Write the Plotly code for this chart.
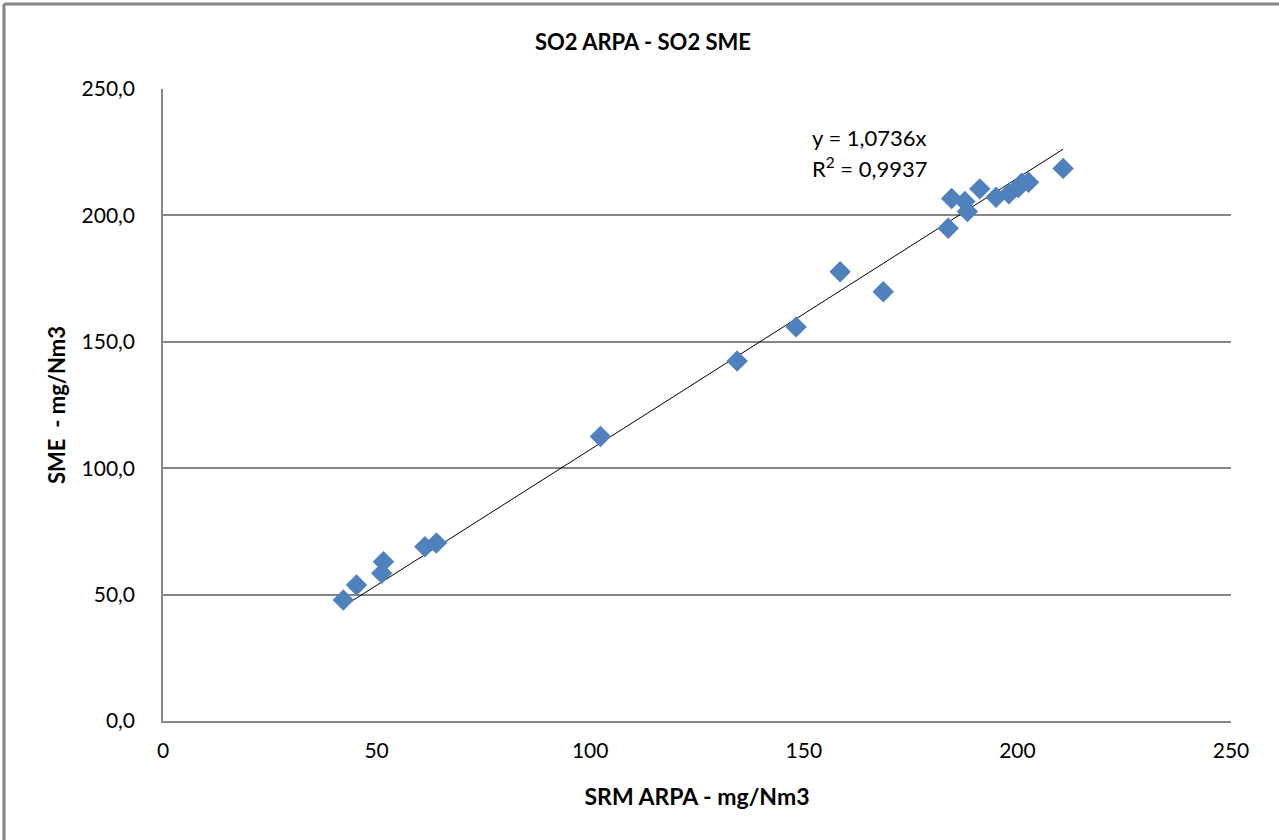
import numpy as np
import plotly.graph_objects as go

# Data
srm_arpa = [42.2, 45.3, 51.2, 51.6, 61.3, 64.0, 102.4, 134.4, 148.2, 158.5, 168.6,
            183.8, 184.6, 187.7, 188.3, 191.2, 195.0, 198.0, 200.2, 201.0, 202.6, 210.7]
sme = [47.9, 53.8, 58.4, 63.0, 68.9, 70.4, 112.5, 142.4, 155.9, 177.7, 169.8,
       194.9, 206.7, 205.5, 201.5, 210.5, 207.2, 208.6, 211.0, 212.7, 213.1, 218.6]
slope = 1.0736
r2 = 0.9937

title_text = "SO2 ARPA - SO2 SME"
x_title = "SRM ARPA - mg/Nm3"
y_title = "SME  - mg/Nm3"

W, H = 1279, 840
ML, MR, MT, MB = 163, 48, 89, 119
FONT = "Lato, Open Sans, sans-serif"
GRID = "#868686"

fig = go.Figure()

xt = np.array([min(srm_arpa), max(srm_arpa)])
fig.add_trace(go.Scatter(x=xt, y=slope * xt, mode="lines",
                         line=dict(color="#000000", width=1), hoverinfo="skip",
                         showlegend=False))
fig.add_trace(go.Scatter(x=srm_arpa, y=sme, mode="markers",
                         marker=dict(symbol="diamond", size=16.5, color="#4F81BD",
                                     line=dict(width=0)),
                         showlegend=False))

pw = W - ML - MR
ph = H - MT - MB
# outer chart frame (left and top edges visible)
fx0 = (4 - ML) / pw
fy1 = 1 + (MT - 4) / ph
fig.add_shape(type="line", xref="paper", yref="paper", x0=fx0, x1=fx0, y0=-1, y1=fy1,
              line=dict(color=GRID, width=3))
fig.add_shape(type="line", xref="paper", yref="paper", x0=fx0, x1=2, y0=fy1, y1=fy1,
              line=dict(color=GRID, width=3))

fig.add_annotation(x=151.5, y=231, xref="x", yref="y", xanchor="left", yanchor="middle",
                   text=f"y = {str(slope).replace('.', ',')}x", showarrow=False,
                   font=dict(family=FONT, size=22, color="#000000"))
fig.add_annotation(x=151.5, y=219, xref="x", yref="y", xanchor="left", yanchor="middle",
                   text=f"R<sup>2</sup> = {str(r2).replace('.', ',')}", showarrow=False,
                   font=dict(family=FONT, size=22, color="#000000"))

fig.update_layout(
    width=W, height=H,
    margin=dict(l=ML, r=MR, t=MT, b=MB),
    paper_bgcolor="white", plot_bgcolor="white",
    separators=",.",
    title=dict(text=f"<b>{title_text}</b>", x=(643 - ML) / pw, xref="paper", xanchor="center",
               y=1 - 42 / H, yanchor="middle",
               font=dict(family=FONT, size=22, color="#000000")),
    font=dict(family=FONT, size=21, color="#000000"),
    xaxis=dict(range=[0, 250], dtick=50, tick0=0, showgrid=False, zeroline=False,
               showline=True, linecolor=GRID, linewidth=1.5, ticks="",
               tickfont=dict(family=FONT, size=21), ticklabelstandoff=10,
               title=dict(text=f"<b>{x_title}</b>", standoff=28,
                          font=dict(family=FONT, size=23))),
    yaxis=dict(range=[0, 250], dtick=50, tick0=0, tickformat=".1f", showgrid=True,
               gridcolor=GRID, gridwidth=1.5, zeroline=False,
               showline=True, linecolor=GRID, linewidth=1.5, ticks="",
               tickfont=dict(family=FONT, size=21), ticklabelstandoff=22,
               title=dict(text=f"<b>{y_title}</b>", standoff=10,
                          font=dict(family=FONT, size=22))),
)

fig.write_html("out.html", config={"displayModeBar": False},
               post_script="document.body.style.margin='0';")
